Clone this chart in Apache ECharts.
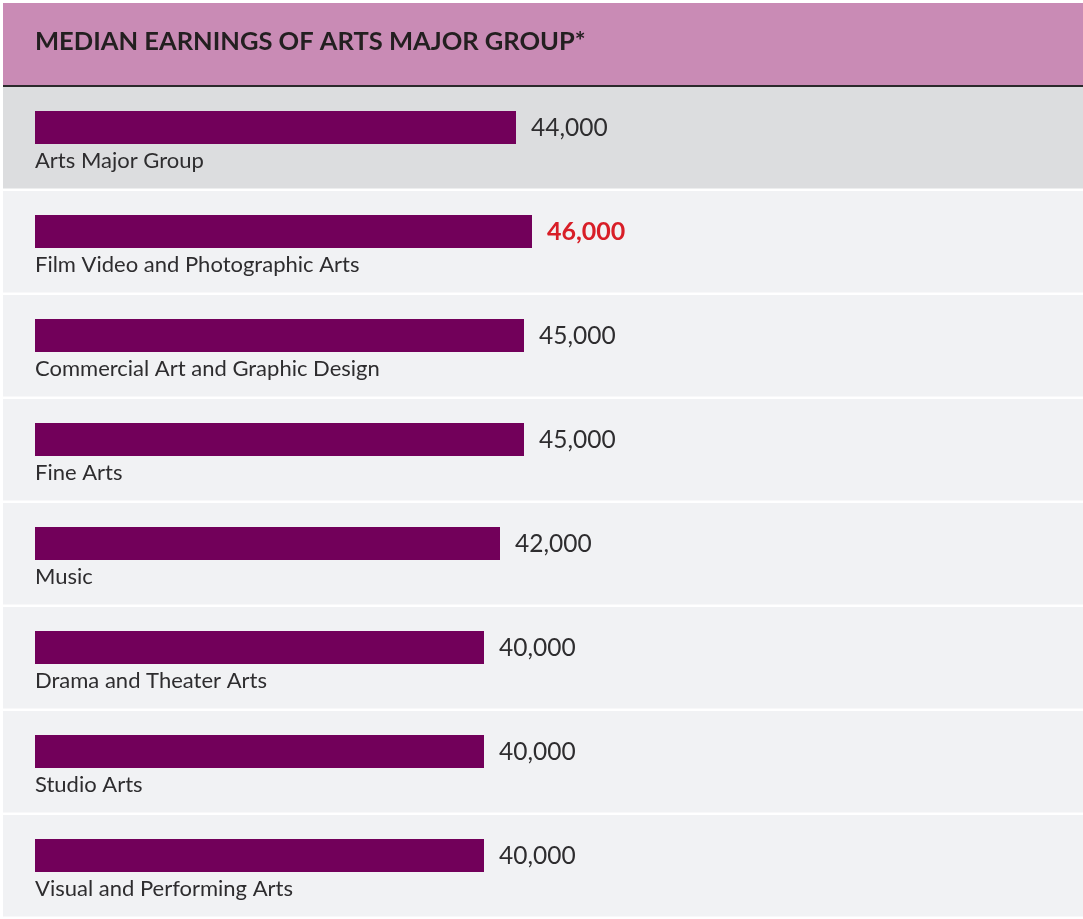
<!DOCTYPE html>
<html><head><meta charset="utf-8">
<script src="https://cdn.jsdelivr.net/npm/echarts@6/dist/echarts.min.js"></script>
<style>html,body{margin:0;padding:0;background:#fff}#c{width:1083px;height:919px}</style>
</head><body><div id="c"></div>
<script>
const chartTitle = 'MEDIAN EARNINGS OF ARTS MAJOR GROUP*';
const categories = [
  'Arts Major Group',
  'Film Video and Photographic Arts',
  'Commercial Art and Graphic Design',
  'Fine Arts',
  'Music',
  'Drama and Theater Arts',
  'Studio Arts',
  'Visual and Performing Arts'
];
const earnings = [44000, 46000, 45000, 45000, 42000, 40000, 40000, 40000];
const highlightIndex = 1;   // value shown in red bold
const summaryIndex = 0;     // row with darker background

// axis scale of the bar grid (bars start at the axis minimum)
const barAxisMin = -16125;
const barAxisMax = 114875;

const FONT = 'Lato, "Noto Sans", sans-serif';
const BAR_COLOR = '#72005a';
const TEXT_COLOR = '#2e2d2f';
const RED = '#d81e27';

const fmt = v => v.toLocaleString('en-US');

const chart = echarts.init(document.getElementById('c'), null, {renderer: 'canvas'});

function renderRow(params, api) {
  const idx = api.value(1);
  const c = api.coord([0, idx]);
  const band = api.size([0, 1])[1];
  const cs = params.coordSys;
  const top = c[1] - band / 2;
  return {
    type: 'rect',
    shape: {x: cs.x, y: top, width: cs.width, height: band - 2.5},
    style: {fill: idx === summaryIndex ? '#dcdddf' : '#f1f2f4'}
  };
}

function renderBar(params, api) {
  const idx = api.value(1);
  const v = api.value(0);
  const start = api.coord([barAxisMin, idx]);
  const end = api.coord([v, idx]);
  const band = api.size([0, 1])[1];
  const cy = start[1];
  const barTop = cy - band * 0.27;
  const barH = band * 0.318;
  const hl = idx === highlightIndex;
  return {
    type: 'group',
    children: [
      {type: 'rect', shape: {x: start[0], y: barTop, width: end[0] - start[0], height: barH},
       style: {fill: BAR_COLOR}},
      {type: 'text', x: end[0] + 15, y: barTop + barH / 2 + 0.5,
       style: {text: fmt(v), fill: hl ? RED : TEXT_COLOR, fontSize: hl ? 25 : 24.5, fontFamily: FONT,
               fontWeight: hl ? 'bold' : 'normal', align: 'left', verticalAlign: 'middle'}},
      {type: 'text', x: start[0], y: cy + 21.5,
       style: {text: categories[idx], fill: TEXT_COLOR, fontSize: 22, fontFamily: FONT,
               align: 'left', verticalAlign: 'middle'}}
    ]
  };
}

const rowData = categories.map((c, i) => [0, i]);
const barData = earnings.map((v, i) => [v, i]);

chart.setOption({
  backgroundColor: '#ffffff',
  animation: false,
  title: {
    text: chartTitle, left: 35, top: 29, padding: 0,
    textStyle: {fontFamily: FONT, fontSize: 25.5, fontWeight: 'bold', color: '#231f20'}
  },
  graphic: [
    {type: 'rect', left: 3, top: 3, shape: {width: 1080, height: 82}, style: {fill: '#c98bb5'}, z: -1},
    {type: 'rect', left: 3, top: 85, shape: {width: 1080, height: 2}, style: {fill: '#2b2a2c'}, z: 10}
  ],
  grid: [
    {left: 3, right: 0, top: 87, bottom: 0},
    {left: 35, right: 0, top: 87, bottom: 0}
  ],
  xAxis: [
    {gridIndex: 0, type: 'value', min: 0, max: 1, show: false},
    {gridIndex: 1, type: 'value', min: barAxisMin, max: barAxisMax, show: false}
  ],
  yAxis: [
    {gridIndex: 0, type: 'category', data: categories, inverse: true, show: false},
    {gridIndex: 1, type: 'category', data: categories, inverse: true, show: false}
  ],
  series: [
    {type: 'custom', xAxisIndex: 0, yAxisIndex: 0, data: rowData, encode: {x: 0, y: 1},
     renderItem: renderRow, z: 1, silent: true, clip: false},
    {type: 'custom', xAxisIndex: 1, yAxisIndex: 1, data: barData, encode: {x: 0, y: 1},
     renderItem: renderBar, z: 2, clip: false}
  ]
});
</script>
</body></html>
